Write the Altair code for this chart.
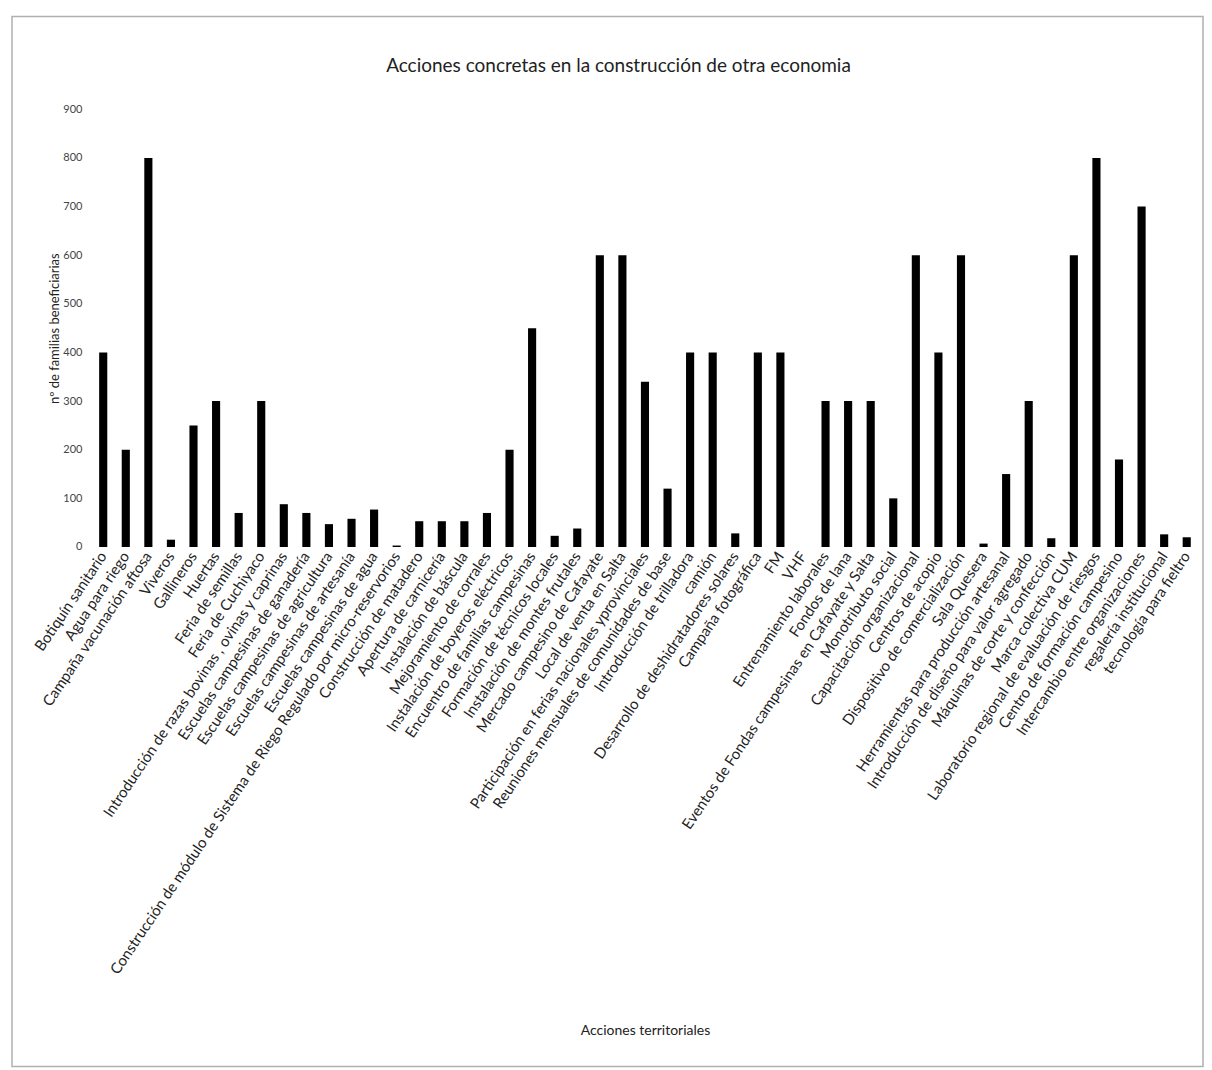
import altair as alt
import pandas as pd

categories = [
    "Botiquín sanitario",
    "Agua para riego",
    "Campaña vacunación aftosa",
    "Viveros",
    "Gallineros",
    "Huertas",
    "Feria de semillas",
    "Feria de Cuchiyaco",
    "Introducción de razas bovinas , ovinas y caprinas",
    "Escuelas campesinas de ganadería",
    "Escuelas campesinas de agricultura",
    "Escuelas campesinas de artesanía",
    "Escuelas campesinas de agua",
    "Construcción de módulo de Sistema de Riego Regulado por micro-reservorios",
    "Construcción de matadero",
    "Apertura de carnicería",
    "Instalación de báscula",
    "Mejoramiento de corrales",
    "Instalación de boyeros eléctricos",
    "Encuentro de familias campesinas",
    "Formación de técnicos locales",
    "Instalación de montes frutales",
    "Mercado campesino de Cafayate",
    "Local de venta en Salta",
    "Participación en ferias nacionales yprovinciales",
    "Reuniones mensuales de comunidades de base",
    "Introducción de trilladora",
    "camión",
    "Desarrollo de deshidratadores solares",
    "Campaña fotográfica",
    "FM",
    "VHF",
    "Entrenamiento laborales",
    "Fondos de lana",
    "Eventos de Fondas campesinas en Cafayate y Salta",
    "Monotributo social",
    "Capacitación organizacional",
    "Centros de acopio",
    "Dispositivo de comercialización",
    "Sala Quesera",
    "Herramientas para producción artesanal",
    "Introducción de diseño para valor agregado",
    "Máquinas de corte y confección",
    "Marca colectiva CUM",
    "Laboratorio regional de evaluación de riesgos",
    "Centro de formación campesino",
    "Intercambio entre organizaciones",
    "regalería institucional",
    "tecnología para fieltro",
]

values = [
    400, 200, 800, 15, 250, 300, 70, 300, 88, 70,
    47, 58, 77, 3, 53, 53, 53, 70, 200, 450,
    23, 38, 600, 600, 340, 120, 400, 400, 28, 400,
    400, 0, 300, 300, 300, 100, 600, 400, 600, 7,
    150, 300, 18, 600, 800, 180, 700, 26, 20,
]

y_ticks = [0, 100, 200, 300, 400, 500, 600, 700, 800, 900]

chart_title = "Acciones concretas en la construcción de otra economia"

df = pd.DataFrame({"accion": categories, "familias": values})
one_df = pd.DataFrame({"t": [chart_title]})

FONT = "Lato"

bars = alt.Chart(df).mark_bar(color="#000000").encode(
    x=alt.X(
        "accion:N",
        sort=categories,
        title="Acciones territoriales",
        scale=alt.Scale(paddingInner=0.64, paddingOuter=0.32),
        axis=alt.Axis(
            labelAngle=-56,
            labelAlign="right",
            labelBaseline="middle",
            labelLimit=1000,
            labelFont=FONT,
            labelFontSize=15,
            labelColor="#222222",
            labelPadding=6,
            ticks=False,
            domain=False,
            titleFont=FONT,
            titleFontSize=14,
            titleFontWeight="normal",
            titleColor="#222222",
            titleY=484,
            titleBaseline="middle",
        ),
    ),
    y=alt.Y(
        "familias:Q",
        title="nº de familias beneficiarias",
        scale=alt.Scale(domain=[0, 900], nice=False),
        axis=alt.Axis(
            values=y_ticks,
            grid=False,
            ticks=False,
            domain=False,
            labelFont=FONT,
            labelFontSize=11,
            labelColor="#444444",
            labelPadding=10,
            titleFont=FONT,
            titleFontSize=13,
            titleFontWeight="normal",
            titleColor="#222222",
            titleX=-37,
            titleY=219,
            titleBaseline="middle",
        ),
    ),
)

frame = alt.Chart(one_df).mark_rect(
    fillOpacity=0, stroke="#b0b0b0", strokeWidth=1.5
).encode(
    x=alt.value(-80),
    x2=alt.value(1112),
    y=alt.value(-93),
    y2=alt.value(958),
)

title_text = alt.Chart(one_df).mark_text(
    font=FONT,
    fontSize=19,
    color="#222222",
    align="center",
    baseline="middle",
).encode(
    text="t:N",
    x=alt.value(527),
    y=alt.value(-43),
)

chart = alt.layer(frame, bars, title_text).properties(
    width=1107,
    height=438,
    padding={"left": 3, "top": 7, "right": 0, "bottom": 0},
).configure_view(stroke=None)

chart.save("out.html", embed_options={"renderer": "svg", "actions": False})
